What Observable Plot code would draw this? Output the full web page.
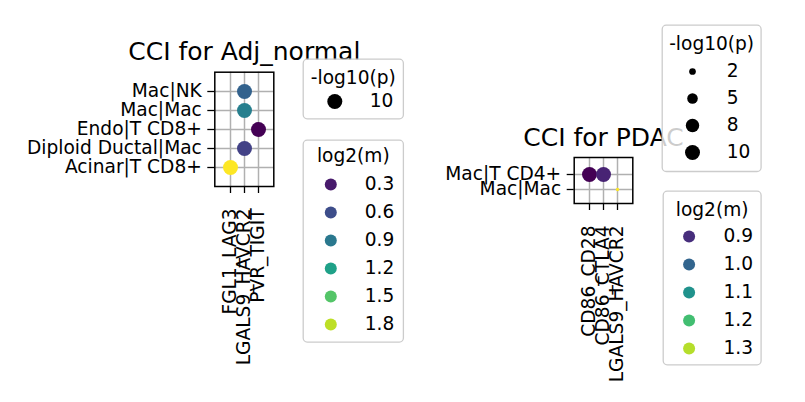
<!DOCTYPE html>
<html><head><meta charset="utf-8">
<script src="https://cdn.jsdelivr.net/npm/d3@7"></script>
<script src="https://cdn.jsdelivr.net/npm/@observablehq/plot@0.6"></script>
<style>
html,body{margin:0;padding:0;background:#fff;}
#fig{position:relative;width:805px;height:402px;overflow:hidden;font-family:"DejaVu Sans";}
#fig > svg{position:absolute;}
</style></head><body><div id="fig"></div>
<script>
// ---- data: Adj_normal ----
const adjTitle = "CCI for Adj_normal";
const adjPairs = ["Mac|NK", "Mac|Mac", "Endo|T CD8+", "Diploid Ductal|Mac", "Acinar|T CD8+"];
const adjInteractions = ["FGL1_LAG3", "LGALS9_HAVCR2", "PVR_TIGIT"];
const adjDotPair = ["Mac|NK", "Mac|Mac", "Endo|T CD8+", "Diploid Ductal|Mac", "Acinar|T CD8+"];
const adjDotInter = ["LGALS9_HAVCR2", "LGALS9_HAVCR2", "PVR_TIGIT", "LGALS9_HAVCR2", "FGL1_LAG3"];
const adjLog2m = [0.74, 0.95, 0.18, 0.53, 1.98];
const adjNegLog10p = [10, 10, 10, 10, 10];
const adjSizeLegend = [10];
const adjColorLegend = [0.3, 0.6, 0.9, 1.2, 1.5, 1.8];

// ---- data: PDAC ----
const pdacTitle = "CCI for PDAC";
const pdacPairs = ["Mac|T CD4+", "Mac|Mac"];
const pdacInteractions = ["CD86_CD28", "CD86_CTLA4", "LGALS9_HAVCR2"];
const pdacDotPair = ["Mac|T CD4+", "Mac|T CD4+", "Mac|Mac"];
const pdacDotInter = ["CD86_CD28", "CD86_CTLA4", "LGALS9_HAVCR2"];
const pdacLog2m = [0.83, 0.88, 1.36];
const pdacNegLog10p = [10, 10, 0.5];
const pdacSizeLegend = [2, 5, 8, 10];
const pdacColorLegend = [0.9, 1.0, 1.1, 1.2, 1.3];

const sizeTitle = "-log10(p)";
const colorTitle = "log2(m)";

const FONT = "DejaVu Sans";
const FS = "18.6px";
const rScale = {type: "sqrt", domain: [0, 10], range: [0, 7.5]};
const fig = document.getElementById("fig");

function place(svg, left, top) {
  svg.style.left = left + "px";
  svg.style.top = top + "px";
  fig.appendChild(svg);
}

function panel(o) {
  const dots = o.dotPair.map((p, i) => ({pair: p, inter: o.dotInter[i], m: o.log2m[i], p: o.nlp[i]}));
  const yOpt = o.yRange ? {range: o.yRange, padding: 0} : {padding: 1};
  return Plot.plot({
    width: o.W, height: o.H,
    marginLeft: o.ml, marginRight: o.mr, marginTop: o.mt, marginBottom: o.mb,
    x: {type: "point", domain: o.inters, padding: 1, label: null},
    y: {type: "point", domain: o.pairs, label: null, ...yOpt},
    color: {type: "linear", scheme: "viridis", domain: [d3.min(o.log2m), d3.max(o.log2m)]},
    r: rScale,
    style: {fontFamily: FONT, fontSize: FS, color: "#000", background: "transparent", overflow: "visible", maxWidth: "none"},
    marks: [
      Plot.gridX({stroke: "#b0b0b0", strokeOpacity: 1, strokeWidth: 1.5}),
      Plot.gridY({stroke: "#b0b0b0", strokeOpacity: 1, strokeWidth: 1.5}),
      Plot.dot(dots, {x: "inter", y: "pair", r: "p", fill: "m"}),
      Plot.frame({stroke: "#000", strokeWidth: 1.5}),
      Plot.axisX({tickRotate: -90, tickSize: 7, tickPadding: 15, label: null, strokeWidth: 1.3}),
      Plot.axisY({tickSize: 7, tickPadding: 6, label: null, strokeWidth: 1.3}),
      Plot.text([o.title], {text: d => d, frameAnchor: "top", lineAnchor: "bottom", dy: o.titleDy, fontSize: 25})
    ]
  });
}

function legend(o) {
  const fmt = o.kind === "size" ? d3.format("d") : d3.format(".1f");
  const labels = o.values.map(fmt);
  return Plot.plot({
    width: o.W, height: o.H, margin: 0,
    x: {axis: null},
    y: {type: "point", domain: labels, range: o.rows, padding: 0, axis: null},
    color: {type: "linear", scheme: "viridis", domain: o.colorDomain || [0, 1]},
    r: rScale,
    style: {fontFamily: FONT, fontSize: FS, color: "#000", background: "transparent", overflow: "visible", maxWidth: "none"},
    marks: [
      Plot.frame({fill: "white", fillOpacity: 0.8, stroke: "#cccccc", strokeWidth: 1.3, rx: 4, inset: 0.7}),
      Plot.text([o.title], {text: d => d, frameAnchor: "top", lineAnchor: "bottom", dy: o.titleY}),
      o.kind === "size"
        ? Plot.dot(o.values, {y: d => fmt(d), r: d => d, fill: "black", frameAnchor: "left", dx: o.dotX})
        : Plot.dot(o.values, {y: d => fmt(d), r: 6, fill: d => d, frameAnchor: "left", dx: o.dotX}),
      Plot.text(o.values, {y: d => fmt(d), text: d => fmt(d), frameAnchor: "left", dx: o.labelX, textAnchor: "start"})
    ]
  });
}

// Left panel
place(panel({
  title: adjTitle, pairs: adjPairs, inters: adjInteractions, dotPair: adjDotPair, dotInter: adjDotInter,
  log2m: adjLog2m, nlp: adjNegLog10p,
  W: 300, H: 402, ml: 214.3, mr: 26.7, mt: 71.7, mb: 216, titleDy: -(71.7 - 59.5)
}), 0, 0);

// Right panel
place(panel({
  title: pdacTitle, pairs: pdacPairs, inters: pdacInteractions, dotPair: pdacDotPair, dotInter: pdacDotInter,
  log2m: pdacLog2m, nlp: pdacNegLog10p,
  W: 260, H: 402, ml: 173.7, mr: 27.7, mt: 157, mb: 199, yRange: [174, 189], titleDy: -(157 - 145.2)
}), 400, 0);

// Legends
place(legend({kind: "size", title: sizeTitle, values: adjSizeLegend, W: 101.6, H: 61,
  titleY: 25.7, rows: [43.4, 43.4], dotX: 32.3, labelX: 67.3}), 301.7, 58.3);
place(legend({kind: "color", title: colorTitle, values: adjColorLegend, colorDomain: [d3.min(adjLog2m), d3.max(adjLog2m)],
  W: 101.6, H: 203.3, titleY: 22.4, rows: [44.3, 185.3], dotX: 28.3, labelX: 62.3}), 301.7, 139);
place(legend({kind: "size", title: sizeTitle, values: pdacSizeLegend, W: 100.3, H: 147.7,
  titleY: 25.4, rows: [46, 128.7], dotX: 31, labelX: 65.3}), 660.7, 24);
place(legend({kind: "color", title: colorTitle, values: pdacColorLegend, colorDomain: [d3.min(pdacLog2m), d3.max(pdacLog2m)],
  W: 99.3, H: 175, titleY: 25.4, rows: [45, 158.3], dotX: 26.6, labelX: 61}), 661.7, 190);
</script>
</body></html>
